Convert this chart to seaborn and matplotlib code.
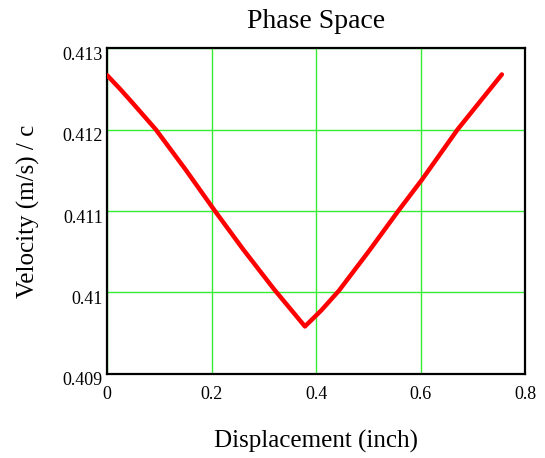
import matplotlib
matplotlib.use("Agg")
import matplotlib.pyplot as plt
import matplotlib.transforms as mtransforms
import seaborn as sns
import pandas as pd

# Data
displacement = [0.0, 0.025, 0.050, 0.0935, 0.150, 0.2063, 0.260, 0.319, 0.3784,
                0.410, 0.4434, 0.500, 0.5568, 0.6027, 0.670, 0.755]
velocity = [0.41267, 0.41250, 0.41232, 0.41200, 0.41151, 0.41100, 0.41053, 0.41004,
            0.40958, 0.40978, 0.41002, 0.41050, 0.41100, 0.41139, 0.41200, 0.41268]
x_ticks = [0.0, 0.2, 0.4, 0.6, 0.8]
x_tick_labels = ["0", "0.2", "0.4", "0.6", "0.8"]
y_ticks = [0.409, 0.410, 0.411, 0.412, 0.413]
y_tick_labels = ["0.409", "0.41", "0.411", "0.412", "0.413"]

df = pd.DataFrame({"Displacement": displacement, "Velocity": velocity})

sns.set_style("white")
plt.rcParams["font.family"] = ["Liberation Serif", "DejaVu Serif"]
plt.rcParams["text.color"] = "black"
plt.rcParams["axes.labelcolor"] = "black"

fig = plt.figure(figsize=(5.45, 4.58), dpi=100)
ax = fig.add_axes([0.1965, 0.1843, 0.7675, 0.71])

sns.lineplot(data=df, x="Displacement", y="Velocity", ax=ax, color="#ff0000",
             linewidth=3.2, estimator=None, sort=False, zorder=3)

ax.set_xlim(0, 0.8)
ax.set_ylim(0.409, 0.413)
ax.set_xticks(x_ticks)
ax.set_xticklabels(x_tick_labels, fontsize=13, color="black")
ax.set_yticks(y_ticks)
ax.set_yticklabels(y_tick_labels, fontsize=13, color="black")
ax.tick_params(axis="both", length=0, colors="black")
ax.tick_params(axis="x", pad=9)
ax.tick_params(axis="y", pad=3)

offset = mtransforms.ScaledTranslation(0, -5 / 100, fig.dpi_scale_trans)
for lbl in ax.get_yticklabels():
    lbl.set_transform(lbl.get_transform() + offset)

ax.grid(True, color="#33ee33", linewidth=1.0)
ax.set_axisbelow(True)
for side in ["top", "bottom", "left", "right"]:
    ax.spines[side].set_visible(True)
    ax.spines[side].set_color("black")
    ax.spines[side].set_linewidth(1.6)

ax.set_title("Phase Space", fontsize=20, pad=15, color="black")
ax.set_xlabel("Displacement (inch)", fontsize=18, labelpad=19, color="black")
ax.set_ylabel("Velocity (m/s) / c", fontsize=18, labelpad=16, color="black")

fig.savefig("out.png", dpi=100)
